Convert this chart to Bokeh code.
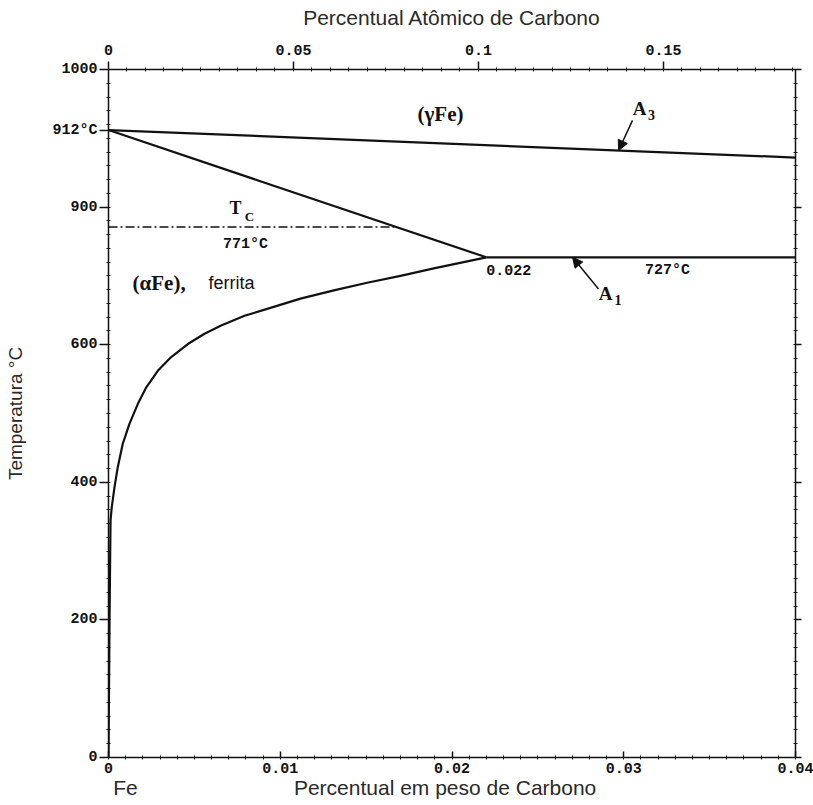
from bokeh.plotting import figure
from bokeh.models import (LinearAxis, Range1d, FixedTicker, Label, Arrow,
                          NormalHead)
from bokeh.embed import file_html
from bokeh.resources import INLINE

# ---- axes: weight % C (bottom), atomic % C (top), temperature (left) ----
wt_ticks = [0, 0.01, 0.02, 0.03, 0.04]
wt_tick_labels = ["0", "0.01", "0.02", "0.03", "0.04"]
at_ticks = [0, 0.05, 0.1, 0.15]
at_tick_labels = ["0", "0.05", "0.1", "0.15"]
temp_ticks = [0, 200, 400, 600, 800, 1000]
temp_tick_labels = ["0", "200", "400", "600", "900", "1000"]

# ---- phase boundaries (wt % C, °C) ----
a3_wt = [0.0, 0.04]
a3_temp = [912, 872]
gamma_alpha_wt = [0.0, 0.022]
gamma_alpha_temp = [912, 727]
eutectoid_wt = [0.022, 0.04]
eutectoid_temp = [727, 727]
curie_temp = 771

# carbon solubility in ferrite
solvus_wt = [0.0, 0.00003, 0.00006, 0.0001, 0.00012, 0.00019, 0.00035,
             0.00054, 0.00083, 0.00122, 0.00171, 0.0022, 0.00287, 0.00365,
             0.00462, 0.00559, 0.00656, 0.00792, 0.00924, 0.01118, 0.01312,
             0.01506, 0.017, 0.01894, 0.022]
solvus_temp = [0, 100, 200, 300, 345, 364, 393, 422, 456, 485, 514, 538,
               562, 582, 601, 616, 628, 642, 652, 667, 679, 690, 700, 711,
               727]

WT_MAX = 0.04
# atomic % C at the right end of the weight-% scale
_c = WT_MAX / 12.011
_fe = (100 - WT_MAX) / 55.845
AT_MAX = _c / (_c + _fe) * 100

TICK_FONT = "Liberation Mono"
SERIF = "Liberation Serif"
SANS = "Liberation Sans"
INK = "#111111"

p = figure(width=813, height=805, output_backend="svg", toolbar_location=None,
           x_range=Range1d(0, WT_MAX), y_range=Range1d(0, 1000),
           min_border_left=108, min_border_right=18, min_border_top=69,
           min_border_bottom=48, background_fill_color="white",
           border_fill_color="white", outline_line_color=None)
p.xgrid.visible = False
p.ygrid.visible = False


def style_axis(ax, size="15px"):
    ax.axis_line_color = INK
    ax.axis_line_width = 1.5
    ax.major_tick_line_color = INK
    ax.major_tick_line_width = 1.5
    ax.minor_tick_line_color = INK
    ax.minor_tick_line_width = 1
    ax.minor_tick_in = 2
    ax.minor_tick_out = 2
    ax.major_label_text_font = TICK_FONT
    ax.major_label_text_font_style = "bold"
    ax.major_label_text_font_size = size
    ax.major_label_text_color = INK
    ax.axis_label_text_font = SANS
    ax.axis_label_text_font_style = "normal"
    ax.axis_label_text_color = "#2a2a2a"


# bottom: weight percent
xa = p.xaxis[0]
xa.ticker = FixedTicker(ticks=wt_ticks,
                        minor_ticks=[i * 0.001 for i in range(41)])
xa.major_label_overrides = dict(zip(wt_ticks, wt_tick_labels))
style_axis(xa)
xa.major_tick_in = 6
xa.major_tick_out = 0
xa.major_label_standoff = 3

# second row under the bottom axis: element name and axis title
title_ticks = [0.00099, 0.0196]
title_texts = ["Fe", "Percentual em peso de Carbono"]
xt = LinearAxis(ticker=FixedTicker(ticks=title_ticks, minor_ticks=[]))
xt.major_label_overrides = dict(zip(title_ticks, title_texts))
xt.axis_line_color = None
xt.major_tick_line_color = None
xt.minor_tick_line_color = None
xt.major_tick_in = 0
xt.major_tick_out = 0
xt.minor_tick_in = 0
xt.minor_tick_out = 0
xt.major_label_standoff = 0
xt.major_label_text_font = SANS
xt.major_label_text_font_size = "21px"
xt.major_label_text_color = "#2a2a2a"
p.add_layout(xt, "below")

# left: temperature, with the allotropic point of pure iron on the axis
ya = p.yaxis[0]
left_ticks = temp_ticks + [a3_temp[0]]
ya.ticker = FixedTicker(ticks=left_ticks,
                        minor_ticks=list(range(0, 1001, 20)))
ya.major_label_overrides = {**dict(zip(temp_ticks, temp_tick_labels)),
                            a3_temp[0]: f"{a3_temp[0]}°C"}
style_axis(ya)
ya.major_tick_in = 0
ya.major_tick_out = 9
ya.major_label_standoff = 2
ya.axis_label = "Temperatura °C"
ya.axis_label_text_font_size = "19px"
ya.axis_label_standoff = 23

# top: atomic percent
p.extra_x_ranges = {"at": Range1d(0, AT_MAX)}
ta = LinearAxis(x_range_name="at",
                ticker=FixedTicker(ticks=at_ticks,
                                   minor_ticks=[i * 0.005 for i in range(38)]))
ta.major_label_overrides = dict(zip(at_ticks, at_tick_labels))
style_axis(ta)
ta.major_tick_in = 0
ta.major_tick_out = 8
ta.major_label_standoff = 7
ta.axis_label = "Percentual Atômico de Carbono"
ta.axis_label_text_font_size = "21px"
ta.axis_label_standoff = 13
p.add_layout(ta, "above")

# right: plain frame edge with ticks, no labels
ra = LinearAxis(ticker=FixedTicker(ticks=temp_ticks,
                                   minor_ticks=list(range(0, 1001, 20))))
style_axis(ra)
ra.major_tick_in = 0
ra.major_tick_out = 6
ra.major_label_overrides = {t: "" for t in temp_ticks}
ra.major_label_standoff = 0
p.add_layout(ra, "right")

# ---- boundary lines ----
LW = 2.2
p.line(a3_wt, a3_temp, line_color=INK, line_width=LW)
p.line(gamma_alpha_wt, gamma_alpha_temp, line_color=INK, line_width=LW)
p.line(eutectoid_wt, eutectoid_temp, line_color=INK, line_width=LW)
p.line(solvus_wt, solvus_temp, line_color=INK, line_width=LW,
       line_join="round")

# Curie temperature: from the axis to the alpha/gamma boundary
curie_end = gamma_alpha_wt[1] * (gamma_alpha_temp[0] - curie_temp) / \
    (gamma_alpha_temp[0] - gamma_alpha_temp[1])
p.line([0, curie_end], [curie_temp, curie_temp], line_color=INK,
       line_width=1.6, line_dash="9 3 2 3")


def lab(x, y, text, font=SERIF, size="17px", style="bold", align="left",
        baseline="middle", xo=0, yo=0, color=INK):
    p.add_layout(Label(x=x, y=y, text=text, text_font=font,
                       text_font_size=size, text_font_style=style,
                       text_align=align, text_baseline=baseline,
                       x_offset=xo, y_offset=yo, text_color=color))


eut_t = eutectoid_temp[0]

# temperatures and compositions
lab(curie_end / 2 - 0.0004, curie_temp, "771°C", font=TICK_FONT,
    size="15px", align="center", yo=-17)
lab(eutectoid_wt[0], eut_t, "0.022", font=TICK_FONT, size="15px", yo=-13)
lab(0.03255, eut_t, "727°C", font=TICK_FONT, size="15px",
    align="center", yo=-13)

# T_C
lab(0.0074, curie_temp, "T", size="18px", align="center", yo=19)
lab(0.0082, curie_temp, "C", size="13px", align="center", yo=11)

# phase fields
lab(0.01933, 936, "(γFe)", size="21px", align="center")
lab(0.0014, 689, "(αFe),", size="21px")
lab(0.00582, 689, "ferrita", font=SANS, size="18px", style="normal")

# A3 label and arrow
lab(0.03092, 943, "A", size="19px", align="center")
lab(0.03162, 943, "3", size="14px", align="center", yo=-6)
a3_tip_wt = 0.0297
a3_tip_t = a3_temp[0] + (a3_temp[1] - a3_temp[0]) * a3_tip_wt / WT_MAX
p.add_layout(Arrow(end=NormalHead(size=10, fill_color=INK, line_color=INK),
                   x_start=0.03051, y_start=926, x_end=a3_tip_wt,
                   y_end=a3_tip_t, line_color=INK, line_width=1.5))

# A1 label and arrow
lab(0.02894, 674, "A", size="19px", align="center")
lab(0.02966, 674, "1", size="14px", align="center", yo=-6)
p.add_layout(Arrow(end=NormalHead(size=10, fill_color=INK, line_color=INK),
                   x_start=0.02853, y_start=681, x_end=0.02702,
                   y_end=eut_t, line_color=INK, line_width=1.5))

open("out.html", "w").write(file_html(p, INLINE))
